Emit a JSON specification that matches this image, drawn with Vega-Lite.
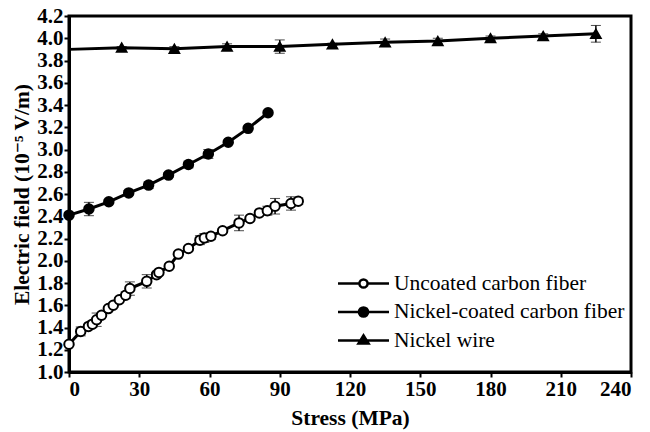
{
  "$schema": "https://vega.github.io/schema/vega-lite/v6.json",
  "autosize": "none",
  "width": 562,
  "height": 356,
  "padding": {"left": 69, "top": 16, "right": 19, "bottom": 60},
  "background": "white",
  "config": {
    "view": {"stroke": "black", "strokeWidth": 3},
    "font": "Times New Roman, Liberation Serif, DejaVu Serif, serif",
    "axis": {
      "grid": false,
      "domainColor": "black",
      "domainWidth": 3,
      "tickColor": "black",
      "tickWidth": 2,
      "tickSize": 5,
      "labelFont": "Times New Roman, Liberation Serif, DejaVu Serif, serif",
      "labelFontWeight": "bold",
      "labelFontSize": 21,
      "labelColor": "black",
      "titleFont": "Times New Roman, Liberation Serif, DejaVu Serif, serif",
      "titleFontWeight": "bold",
      "titleFontSize": 21.5,
      "titleColor": "black"
    }
  },
  "data": {
    "values": [
      {"s": "Uncoated carbon fiber", "x": 0, "y": 1.25, "e": 0},
      {"s": "Uncoated carbon fiber", "x": 5, "y": 1.365, "e": 0.04},
      {"s": "Uncoated carbon fiber", "x": 8.3, "y": 1.41, "e": 0},
      {"s": "Uncoated carbon fiber", "x": 10, "y": 1.43, "e": 0.03},
      {"s": "Uncoated carbon fiber", "x": 11.8, "y": 1.47, "e": 0.06},
      {"s": "Uncoated carbon fiber", "x": 13.9, "y": 1.51, "e": 0},
      {"s": "Uncoated carbon fiber", "x": 16.8, "y": 1.57, "e": 0},
      {"s": "Uncoated carbon fiber", "x": 18.9, "y": 1.6, "e": 0.02},
      {"s": "Uncoated carbon fiber", "x": 21.5, "y": 1.65, "e": 0},
      {"s": "Uncoated carbon fiber", "x": 24.2, "y": 1.69, "e": 0.03},
      {"s": "Uncoated carbon fiber", "x": 26, "y": 1.75, "e": 0.06},
      {"s": "Uncoated carbon fiber", "x": 33.2, "y": 1.815, "e": 0.06},
      {"s": "Uncoated carbon fiber", "x": 37.4, "y": 1.875, "e": 0.02},
      {"s": "Uncoated carbon fiber", "x": 38.4, "y": 1.895, "e": 0.02},
      {"s": "Uncoated carbon fiber", "x": 42.8, "y": 1.95, "e": 0.02},
      {"s": "Uncoated carbon fiber", "x": 46.7, "y": 2.06, "e": 0},
      {"s": "Uncoated carbon fiber", "x": 51, "y": 2.11, "e": 0},
      {"s": "Uncoated carbon fiber", "x": 55.9, "y": 2.185, "e": 0.04},
      {"s": "Uncoated carbon fiber", "x": 57.8, "y": 2.205, "e": 0.04},
      {"s": "Uncoated carbon fiber", "x": 60.6, "y": 2.22, "e": 0.03},
      {"s": "Uncoated carbon fiber", "x": 65.6, "y": 2.27, "e": 0},
      {"s": "Uncoated carbon fiber", "x": 72.6, "y": 2.34, "e": 0.07},
      {"s": "Uncoated carbon fiber", "x": 77.3, "y": 2.38, "e": 0},
      {"s": "Uncoated carbon fiber", "x": 81.3, "y": 2.43, "e": 0},
      {"s": "Uncoated carbon fiber", "x": 84.7, "y": 2.45, "e": 0.04},
      {"s": "Uncoated carbon fiber", "x": 88, "y": 2.49, "e": 0.07},
      {"s": "Uncoated carbon fiber", "x": 94.8, "y": 2.515, "e": 0.06},
      {"s": "Uncoated carbon fiber", "x": 97.9, "y": 2.535, "e": 0.03},
      {"s": "Nickel-coated carbon fiber", "x": 0, "y": 2.41, "e": 0},
      {"s": "Nickel-coated carbon fiber", "x": 8.5, "y": 2.465, "e": 0.06},
      {"s": "Nickel-coated carbon fiber", "x": 17, "y": 2.53, "e": 0},
      {"s": "Nickel-coated carbon fiber", "x": 25.5, "y": 2.61, "e": 0.02},
      {"s": "Nickel-coated carbon fiber", "x": 34, "y": 2.68, "e": 0.03},
      {"s": "Nickel-coated carbon fiber", "x": 42.5, "y": 2.77, "e": 0.02},
      {"s": "Nickel-coated carbon fiber", "x": 51, "y": 2.865, "e": 0.03},
      {"s": "Nickel-coated carbon fiber", "x": 59.5, "y": 2.96, "e": 0.04},
      {"s": "Nickel-coated carbon fiber", "x": 68, "y": 3.065, "e": 0},
      {"s": "Nickel-coated carbon fiber", "x": 76.5, "y": 3.19, "e": 0},
      {"s": "Nickel-coated carbon fiber", "x": 85, "y": 3.33, "e": 0},
      {"s": "Nickel wire", "x": 0, "y": 3.9, "e": 0},
      {"s": "Nickel wire", "x": 22.5, "y": 3.915, "e": 0.01},
      {"s": "Nickel wire", "x": 45, "y": 3.905, "e": 0.02},
      {"s": "Nickel wire", "x": 67.5, "y": 3.925, "e": 0.025},
      {"s": "Nickel wire", "x": 90, "y": 3.925, "e": 0.06},
      {"s": "Nickel wire", "x": 112.5, "y": 3.945, "e": 0.01},
      {"s": "Nickel wire", "x": 135, "y": 3.963, "e": 0.03},
      {"s": "Nickel wire", "x": 157.5, "y": 3.975, "e": 0.025},
      {"s": "Nickel wire", "x": 180, "y": 4.0, "e": 0.02},
      {"s": "Nickel wire", "x": 202.5, "y": 4.02, "e": 0.02},
      {"s": "Nickel wire", "x": 225, "y": 4.04, "e": 0.075}
    ]
  },
  "encoding": {
    "x": {
      "field": "x", "type": "quantitative",
      "scale": {"domain": [0, 240], "nice": false},
      "axis": {"values": [0, 30, 60, 90, 120, 150, 180, 210, 240], "title": "Stress (MPa)", "titlePadding": 8, "labelPadding": 1}
    },
    "y": {
      "field": "y", "type": "quantitative",
      "scale": {"domain": [1, 4.2], "nice": false, "zero": false},
      "axis": {"values": [1.0, 1.2, 1.4, 1.6, 1.8, 2.0, 2.2, 2.4, 2.6, 2.8, 3.0, 3.2, 3.4, 3.6, 3.8, 4.0, 4.2], "format": ".1f", "title": "Electric field (10⁻⁵ V/m)", "titlePadding": 3, "labelPadding": 1}
    }
  },
  "layer": [
    {
      "mark": {"type": "line", "stroke": "black", "strokeWidth": 3},
      "encoding": {"detail": {"field": "s"}}
    },
    {
      "transform": [{"filter": "datum.e > 0"}],
      "mark": {"type": "errorbar", "ticks": {"size": 10, "color": "black", "strokeWidth": 1.5}, "rule": {"color": "black", "strokeWidth": 1.5}},
      "encoding": {"yError": {"field": "e"}}
    },
    {
      "transform": [{"filter": "!(datum.s === 'Nickel wire' && datum.x === 0)"}],
      "mark": {"type": "point", "filled": true, "stroke": "black", "strokeWidth": 2, "size": 90, "opacity": 1},
      "encoding": {
        "shape": {"field": "s", "type": "nominal", "legend": null,
          "scale": {"domain": ["Uncoated carbon fiber", "Nickel-coated carbon fiber", "Nickel wire"], "range": ["circle", "circle", "triangle-up"]}},
        "fill": {"field": "s", "type": "nominal", "legend": null,
          "scale": {"domain": ["Uncoated carbon fiber", "Nickel-coated carbon fiber", "Nickel wire"], "range": ["white", "black", "black"]}}
      }
    },
    {
      "transform": [{"filter": "datum.x < -1"}],
      "mark": {"type": "point", "filled": false, "stroke": "black", "strokeWidth": 2.5, "opacity": 1},
      "encoding": {
        "shape": {"field": "s", "type": "nominal",
          "scale": {"domain": ["Uncoated carbon fiber", "Nickel-coated carbon fiber", "Nickel wire"],
            "range": ["M-2.5,0L-0.4,0M0.4,0L2.5,0M-0.4,0A0.4,0.4,0,1,0,0.4,0A0.4,0.4,0,1,0,-0.4,0Z",
                      "M-2.5,0L2.5,0M-0.45,0A0.45,0.45,0,1,0,0.45,0A0.45,0.45,0,1,0,-0.45,0ZM-0.28,0A0.28,0.28,0,1,0,0.28,0A0.28,0.28,0,1,0,-0.28,0ZM-0.12,0A0.12,0.12,0,1,0,0.12,0A0.12,0.12,0,1,0,-0.12,0Z",
                      "M-2.5,0L2.5,0M-0.5,0.3L0,-0.5L0.5,0.3ZM-0.25,0.15L0,-0.25L0.25,0.15Z"]},
          "legend": {
            "title": null,
            "orient": "none",
            "legendX": 283,
            "legendY": 256,
            "padding": 0,
            "symbolSize": 416,
            "symbolOpacity": 1,
            "symbolStrokeColor": "black",
            "symbolStrokeWidth": 2.5,
            "labelFont": "Times New Roman, Liberation Serif, DejaVu Serif, serif",
            "labelFontSize": 21.5,
            "labelColor": "black",
            "labelOffset": 19,
            "rowPadding": 6.5,
            "labelLimit": 400
          }
        }
      }
    }
  ],
  "resolve": {"scale": {"shape": "independent"}, "legend": {"shape": "independent"}}
}
